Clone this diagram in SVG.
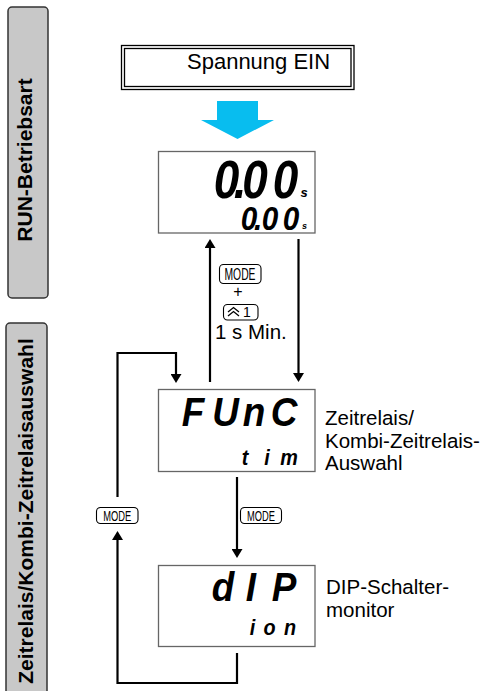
<svg xmlns="http://www.w3.org/2000/svg" width="485" height="691" viewBox="0 0 485 691">
<style>
.side{fill:#c8c8c8;stroke:#333;stroke-width:1.5}
.sidetxt{font-family:"Liberation Sans",Arial,sans-serif;font-weight:bold;font-size:21px;fill:#000;text-anchor:middle}
.lbl{font-family:"Liberation Sans",Arial,sans-serif;fill:#000}
.lcd{font-family:"Liberation Sans",Arial,sans-serif;font-weight:bold;font-style:italic;fill:#000;text-anchor:middle}
.disp{fill:#fff;stroke:#666;stroke-width:1.3}
.key{fill:#fff;stroke:#000;stroke-width:1.1}
.keytxt{font-family:"Liberation Sans",Arial,sans-serif;fill:#000;text-anchor:middle}
.conn{fill:none;stroke:#000;stroke-width:2.2}
</style>
<defs>
<marker id="ah" markerUnits="userSpaceOnUse" markerWidth="10" markerHeight="11" refX="1" refY="5.5" orient="auto">
<path d="M0,0 L9,5.5 L0,11 z" fill="#000"/>
</marker>
</defs>

<g id="side-run">
<rect class="side" x="8" y="7" width="40" height="291" rx="4"/>
<text class="sidetxt" transform="translate(32,160) rotate(-90)">RUN-Betriebsart</text>
</g>
<g id="side-func">
<rect class="side" x="6" y="323" width="41" height="380" rx="4"/>
<text class="sidetxt" transform="translate(33,511) rotate(-90)">Zeitrelais/Kombi-Zeitrelaisauswahl</text>
</g>

<g id="power-on">
<rect x="121.5" y="45.5" width="232.5" height="44" fill="#fff" stroke="#000" stroke-width="1.3"/>
<rect x="124.5" y="48.5" width="226.5" height="38" fill="none" stroke="#000" stroke-width="1.3"/>
<text class="lbl" x="187" y="69" font-size="22">Spannung EIN</text>
</g>

<g id="power-arrow">
<polygon points="217,101 258,101 258,120 274,120 237.5,139 201,120 217,120" fill="#08BDEF"/>
</g>

<g id="run-display">
<rect class="disp" x="158.5" y="151.5" width="156.5" height="81.5"/>
<text class="lcd" font-size="54" transform="translate(0,198) scale(0.85,1)" x="266.5 282.4 300 335.9" y="0">0.00</text>
<text class="lcd" font-size="13" font-style="normal" x="304" y="197">s</text>
<text class="lcd" font-size="33" transform="translate(0,230) scale(0.9,1)" x="276.7 286.7 300 323.3" y="0">0.00</text>
<text class="lcd" font-size="9" font-style="normal" x="304.5" y="229">s</text>
</g>

<g id="func-display">
<rect class="disp" x="158.5" y="389.5" width="156.5" height="82"/>
<text class="lcd" font-size="41" transform="translate(0,426) scale(0.9,1)" x="214.4 250.6 282.2 315.6" y="0">FUnC</text>
<text class="lcd" font-size="22" transform="translate(0,465) scale(0.9,1)" x="272.2 296.7 321.1" y="0">tim</text>
</g>
<g id="func-label">
<text class="lbl" x="325" y="425" font-size="20.5">Zeitrelais/</text>
<text class="lbl" x="325" y="448" font-size="20.5">Kombi-Zeitrelais-</text>
<text class="lbl" x="325" y="470" font-size="20.5">Auswahl</text>
</g>

<g id="dip-display">
<rect class="disp" x="158.5" y="565.5" width="156.5" height="81"/>
<text class="lcd" font-size="41" transform="translate(0,601) scale(0.9,1)" x="247.8 278.9 315.6" y="0">dIP</text>
<text class="lcd" font-size="22" transform="translate(0,635) scale(0.9,1)" x="280.6 299.4 322.2" y="0">ion</text>
</g>
<g id="dip-label">
<text class="lbl" x="326" y="594" font-size="20.5">DIP-Schalter-</text>
<text class="lbl" x="326" y="617" font-size="20.5">monitor</text>
</g>

<g id="connectors">
<line class="conn" x1="210" y1="382" x2="210" y2="247" marker-end="url(#ah)"/>
<line class="conn" x1="298.5" y1="239" x2="298.5" y2="374" marker-end="url(#ah)"/>
<line class="conn" x1="237" y1="477" x2="237" y2="550" marker-end="url(#ah)"/>
<path class="conn" d="M237,653 V683 H117.5 V539" marker-end="url(#ah)"/>
<path class="conn" d="M117.5,497 V353 H176 V375" marker-end="url(#ah)"/>
</g>

<g id="key-mode-plus-up">
<rect class="key" x="219.5" y="264.5" width="41.5" height="19" rx="4"/>
<text class="keytxt" x="240" y="280" font-size="17" textLength="31" lengthAdjust="spacingAndGlyphs">MODE</text>
<text class="keytxt" x="238" y="297" font-size="16">+</text>
<rect class="key" x="223.5" y="304.5" width="34.5" height="15.5" rx="4"/>
<polyline points="228,312 233.5,307.5 239,312" fill="none" stroke="#000" stroke-width="1.3"/>
<polyline points="228,316 233.5,311.5 239,316" fill="none" stroke="#000" stroke-width="1.3"/>
<text class="keytxt" x="247" y="317" font-size="14">1</text>
<text class="lbl" x="215" y="339" font-size="20.5">1 s Min.</text>
</g>

<g id="key-mode-left">
<rect class="key" x="96.5" y="507.5" width="41.5" height="16" rx="4"/>
<text class="keytxt" x="117.2" y="521" font-size="15.5" textLength="28" lengthAdjust="spacingAndGlyphs">MODE</text>
</g>
<g id="key-mode-right">
<rect class="key" x="240.5" y="507.5" width="41" height="16" rx="4"/>
<text class="keytxt" x="261" y="521" font-size="15.5" textLength="28" lengthAdjust="spacingAndGlyphs">MODE</text>
</g>
</svg>
